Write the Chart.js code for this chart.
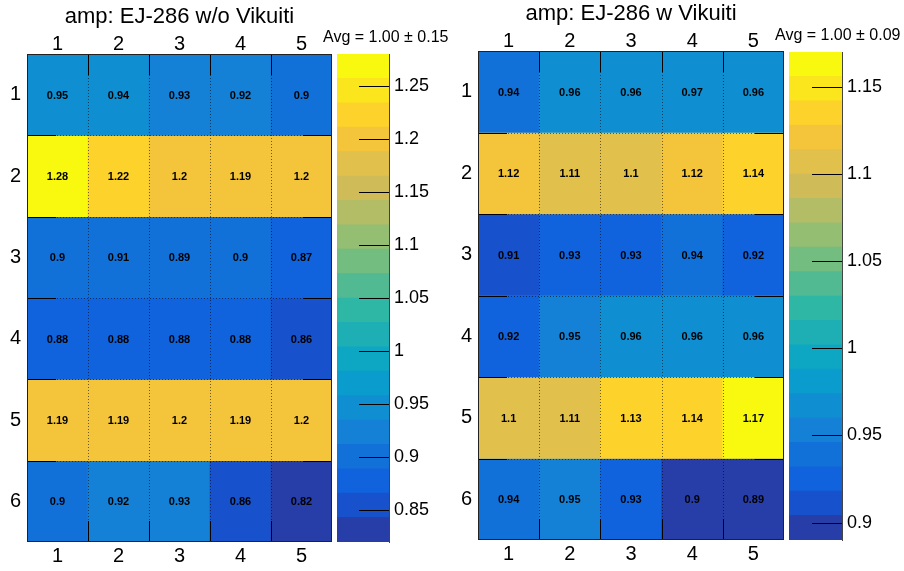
<!DOCTYPE html>
<html>
<head>
<meta charset="utf-8">
<title>amp: EJ-286</title>
<script src="https://cdn.jsdelivr.net/npm/chart.js@4.4.1/dist/chart.umd.min.js"></script>
<style>
  html, body { margin: 0; padding: 0; background: #fff; }
  #wrap { position: relative; width: 904px; height: 571px; }
  #wrap canvas { position: absolute; left: 0; top: 0; }
</style>
</head>
<body>
<div id="wrap">
  <canvas id="mapNo" width="904" height="571"></canvas>
  <canvas id="barNo" width="904" height="571"></canvas>
  <canvas id="mapW" width="904" height="571"></canvas>
  <canvas id="barW" width="904" height="571"></canvas>
</div>
<script>
// data (rows top to bottom, columns left to right)
const COLUMNS = ['1', '2', '3', '4', '5'];
const ROWS = [1, 2, 3, 4, 5, 6];

const AMP_NO_VIKUITI = [
  [0.95, 0.94, 0.93, 0.92, 0.9],
  [1.28, 1.22, 1.2, 1.19, 1.2],
  [0.9, 0.91, 0.89, 0.9, 0.87],
  [0.88, 0.88, 0.88, 0.88, 0.86],
  [1.19, 1.19, 1.2, 1.19, 1.2],
  [0.9, 0.92, 0.93, 0.86, 0.82]
];
const AMP_VIKUITI = [
  [0.94, 0.96, 0.96, 0.97, 0.96],
  [1.12, 1.11, 1.1, 1.12, 1.14],
  [0.91, 0.93, 0.93, 0.94, 0.92],
  [0.92, 0.95, 0.96, 0.96, 0.96],
  [1.1, 1.11, 1.13, 1.14, 1.17],
  [0.94, 0.95, 0.93, 0.9, 0.89]
];

const Z_TICKS_NO_VIKUITI = [0.85, 0.9, 0.95, 1, 1.05, 1.1, 1.15, 1.2, 1.25];
const Z_TICKS_VIKUITI = [0.9, 0.95, 1, 1.05, 1.1, 1.15];

const TITLE_NO_VIKUITI = 'amp: EJ-286 w/o Vikuiti';
const TITLE_VIKUITI = 'amp: EJ-286 w Vikuiti';
const AVG_NO_VIKUITI = 'Avg = 1.00 \u00b1 0.15';
const AVG_VIKUITI = 'Avg = 1.00 \u00b1 0.09';

const N_CONTOURS = 20;

// ROOT kBird palette
const BIRD_STOPS = [0.0, 0.125, 0.25, 0.375, 0.5, 0.625, 0.75, 0.875, 1.0];
const BIRD_RED = [0.2082, 0.0592, 0.0780, 0.0232, 0.1802, 0.5301, 0.8186, 0.9956, 0.9764];
const BIRD_GREEN = [0.1664, 0.3599, 0.5041, 0.6419, 0.7178, 0.7492, 0.7328, 0.7862, 0.9832];
const BIRD_BLUE = [0.5293, 0.8684, 0.8385, 0.7914, 0.6425, 0.4662, 0.3499, 0.1968, 0.0539];

Chart.defaults.font.family = "'Liberation Sans', Arial, Helvetica, sans-serif";
Chart.defaults.color = '#000';

function birdColor(k) {
  const t = k / 255;
  let g = 1;
  while (g < BIRD_STOPS.length - 1 && t > BIRD_STOPS[g]) g++;
  const f = (t - BIRD_STOPS[g - 1]) / (BIRD_STOPS[g] - BIRD_STOPS[g - 1]);
  const mix = arr => Math.round(255 * (arr[g - 1] + f * (arr[g] - arr[g - 1])));
  return `rgb(${mix(BIRD_RED)}, ${mix(BIRD_GREEN)}, ${mix(BIRD_BLUE)})`;
}

function bandColor(band) {
  return birdColor(Math.floor((band + 0.99) * 255 / N_CONTOURS));
}

function levelColor(z, zmin, zmax) {
  let band = Math.floor(0.01 + (z - zmin) * N_CONTOURS / (zmax - zmin));
  band = Math.min(N_CONTOURS - 1, Math.max(0, band));
  return bandColor(band);
}

function crisp(v) {
  return Math.round(v) + 0.5;
}

// grid, frame, tick marks, cell values and title
const cellPlugin = {
  id: 'cells',
  afterDatasetsDraw(chart, args, opts) {
    const { ctx, chartArea: a, scales: { x, y } } = chart;
    const xEdges = COLUMNS.slice(1).map((c, i) => crisp((x.getPixelForValue(i) + x.getPixelForValue(i + 1)) / 2));
    const yEdges = ROWS.slice(1).map(r => crisp(y.getPixelForValue(r - 0.5)));
    ctx.save();
    ctx.lineWidth = 1;

    ctx.strokeStyle = 'rgba(0, 0, 0, 0.55)';
    ctx.setLineDash([1, 2]);
    ctx.beginPath();
    xEdges.forEach(px => { ctx.moveTo(px, a.top); ctx.lineTo(px, a.bottom); });
    yEdges.forEach(py => { ctx.moveTo(a.left, py); ctx.lineTo(a.right, py); });
    ctx.stroke();

    ctx.setLineDash([]);
    ctx.strokeStyle = '#000';
    ctx.beginPath();
    xEdges.forEach(px => {
      ctx.moveTo(px, a.top); ctx.lineTo(px, a.top + 21);
      ctx.moveTo(px, a.bottom); ctx.lineTo(px, a.bottom - 21);
    });
    yEdges.forEach(py => {
      ctx.moveTo(a.left, py); ctx.lineTo(a.left + 29, py);
      ctx.moveTo(a.right, py); ctx.lineTo(a.right - 29, py);
    });
    ctx.stroke();

    ctx.strokeStyle = '#222';
    ctx.strokeRect(crisp(a.left), crisp(a.top), Math.round(a.right - a.left) - 1, Math.round(a.bottom - a.top) - 1);

    ctx.fillStyle = '#000';
    ctx.font = "bold 11px 'Liberation Sans', Arial, sans-serif";
    ctx.textAlign = 'center';
    ctx.textBaseline = 'middle';
    chart.data.datasets.forEach((ds, i) => {
      chart.getDatasetMeta(i).data.forEach((bar, j) => {
        ctx.fillText(String(ds.values[j]), bar.x, (bar.y + bar.base) / 2 + 1);
      });
    });

    ctx.font = "22px 'Liberation Sans', Arial, sans-serif";
    ctx.textBaseline = 'alphabetic';
    ctx.fillText(opts.title, (a.left + a.right) / 2, a.top - 31);
    ctx.restore();
  }
};

// inner tick marks and the average label of the palette
const paletteTicks = {
  id: 'paletteTicks',
  afterDatasetsDraw(chart, args, opts) {
    const { ctx, chartArea: a, scales: { y } } = chart;
    ctx.save();
    ctx.strokeStyle = '#000';
    ctx.lineWidth = 1;
    ctx.beginPath();
    y.ticks.forEach(t => {
      const py = crisp(y.getPixelForValue(t.value));
      ctx.moveTo(a.right - 30, py);
      ctx.lineTo(a.right, py);
    });
    ctx.stroke();
    ctx.fillStyle = '#000';
    ctx.font = "16px 'Liberation Sans', Arial, sans-serif";
    ctx.textAlign = 'left';
    ctx.fillText(opts.label, a.left - 14, a.top - 12);
    ctx.restore();
  }
};

function heatmap(id, grid, title, padding) {
  const values = grid.flat();
  const zmin = Math.min(...values);
  const zmax = Math.max(...values);
  const noGrid = { display: false, drawTicks: false };
  return new Chart(document.getElementById(id), {
    type: 'bar',
    data: {
      labels: COLUMNS,
      datasets: ROWS.map((r, i) => ({
        data: COLUMNS.map(() => [r - 0.5, r + 0.5]),
        values: grid[i],
        backgroundColor: grid[i].map(z => levelColor(z, zmin, zmax)),
        borderWidth: 0,
        grouped: false,
        barPercentage: 1,
        categoryPercentage: 1
      }))
    },
    options: {
      responsive: false,
      animation: false,
      events: [],
      layout: { padding },
      plugins: { legend: { display: false }, tooltip: { enabled: false }, cells: { title } },
      scales: {
        x: {
          type: 'category', position: 'bottom', offset: true,
          grid: noGrid, border: { display: false },
          ticks: { font: { size: 20 }, padding: 2 },
          afterFit: s => { s.height = 29; }
        },
        xTop: {
          type: 'category', labels: COLUMNS, position: 'top', offset: true,
          grid: noGrid, border: { display: false },
          ticks: { font: { size: 20 }, padding: -2 },
          afterFit: s => { s.height = 30; }
        },
        y: {
          type: 'linear', min: 0.5, max: 6.5, reverse: true,
          grid: noGrid, border: { display: false },
          ticks: { font: { size: 20 }, padding: 6, callback: v => String(v) },
          afterBuildTicks: s => { s.ticks = ROWS.map(v => ({ value: v })); },
          afterFit: s => { s.width = 27; }
        }
      }
    },
    plugins: [cellPlugin]
  });
}

function palette(id, grid, zTicks, label, padding) {
  const values = grid.flat();
  const zmin = Math.min(...values);
  const zmax = Math.max(...values);
  const dz = (zmax - zmin) / N_CONTOURS;
  const bands = Array.from({ length: N_CONTOURS }, (_, i) => i);
  return new Chart(document.getElementById(id), {
    type: 'bar',
    data: {
      labels: [''],
      datasets: bands.map(i => ({
        data: [[zmin + i * dz, zmin + (i + 1) * dz]],
        backgroundColor: bandColor(i),
        borderWidth: 0,
        grouped: false,
        barPercentage: 1,
        categoryPercentage: 1
      }))
    },
    options: {
      responsive: false,
      animation: false,
      events: [],
      layout: { padding },
      plugins: { legend: { display: false }, tooltip: { enabled: false }, paletteTicks: { label } },
      scales: {
        x: { display: false },
        y: {
          type: 'linear', position: 'right', min: zmin, max: zmax,
          grid: { display: false, drawTicks: false },
          border: { display: true, color: '#444', width: 1 },
          ticks: { font: { size: 18 }, padding: 5, callback: v => String(+v.toFixed(2)) },
          afterBuildTicks: s => { s.ticks = zTicks.map(v => ({ value: v })); },
          afterFit: s => { s.width = 60; }
        }
      }
    },
    plugins: [paletteTicks]
  });
}

heatmap('mapNo', AMP_NO_VIKUITI, TITLE_NO_VIKUITI, { left: 0, top: 24, right: 572, bottom: 0 });
palette('barNo', AMP_NO_VIKUITI, Z_TICKS_NO_VIKUITI, AVG_NO_VIKUITI, { left: 337, top: 54, right: 455, bottom: 29 });
heatmap('mapW', AMP_VIKUITI, TITLE_VIKUITI, { left: 451, top: 21, right: 120, bottom: 2 });
palette('barW', AMP_VIKUITI, Z_TICKS_VIKUITI, AVG_VIKUITI, { left: 789, top: 52, right: 2, bottom: 31 });
</script>
</body>
</html>
